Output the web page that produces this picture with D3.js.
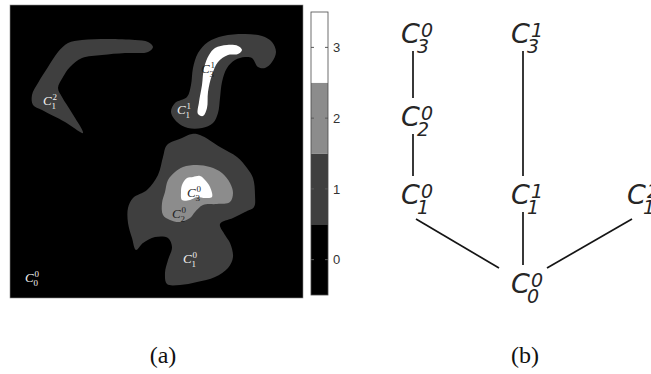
<!DOCTYPE html>
<html><head><meta charset="utf-8">
<script src="https://cdn.jsdelivr.net/npm/d3@7"></script>
<style>
html,body{margin:0;padding:0;background:#fff;}
svg{display:block;}
</style></head>
<body>
<svg id="chart" width="651" height="374"></svg>
<script>
// ---------- DATA ----------
// level-set image (a): contour outlines in image pixel units (0..293)
const levels = [0, 1, 2, 3];
const levelColors = ["#000000", "#3f3f3f", "#8c8c8c", "#ffffff"];
const colorbarTicks = [0, 1, 2, 3];

const regionHook = [[58,38],[72,35],[98,34],[125,35],[138,37],[143,42],[138,47],[115,48],[92,50],[72,53],[60,62],[53,72],[48,83],[52,92],[62,108],[73,128],[55,117],[32,105],[23,100],[22,90],[28,78],[38,62],[48,47]];
const regionS = [[188,48],[198,37],[213,31],[235,29],[252,31],[262,37],[266,47],[262,57],[255,63],[248,62],[242,53],[235,52],[225,55],[217,63],[212,77],[210,93],[208,108],[203,118],[192,123],[178,123],[167,117],[161,107],[165,98],[177,92],[181,80],[183,63]];
const regionSWhite = [[205,43],[217,40],[228,41],[232,45],[228,49],[218,50],[208,57],[202,70],[198,87],[197,103],[193,111],[188,109],[189,97],[192,80],[194,63],[199,50]];
const regionBlob = [[182,129],[190,130],[210,142],[227,152],[237,163],[243,173],[245,190],[244,202],[235,207],[223,213],[210,219],[215,230],[220,238],[223,252],[218,263],[205,272],[187,277],[170,280],[157,279],[155,268],[158,255],[162,242],[158,233],[145,232],[133,238],[126,245],[122,233],[118,218],[118,203],[123,193],[137,185],[148,170],[153,152],[157,140],[172,133]];
const regionBlobGray = [[173,162],[187,160],[200,162],[212,168],[220,178],[223,188],[220,197],[207,199],[193,200],[185,207],[180,213],[170,217],[160,215],[153,210],[152,198],[155,187],[158,175],[165,167]];
const regionBlobWhite = [[172,180],[177,173],[183,172],[190,171],[195,175],[200,182],[202,192],[195,193],[187,192],[180,195],[172,195],[171,187]];

const regions = [
  {level: 1, pts: regionHook},
  {level: 1, pts: regionS},
  {level: 3, pts: regionSWhite},
  {level: 1, pts: regionBlob},
  {level: 2, pts: regionBlobGray},
  {level: 3, pts: regionBlobWhite}
];

// labels placed on the image (image pixel units): [x, y, sup, sub]
const imageLabels = [
  [33,100,2,1],
  [191,68,1,3],
  [167,109,1,1],
  [177,192,0,3],
  [162,213,0,2],
  [173,258,0,1],
  [15,277,0,0]
];

// tree (b): nodes C^sup_sub, column index, parent
const treeNodes  = ["C00","C10","C11","C12","C20","C30","C31"];
const treeSup    = [0, 0, 1, 2, 0, 0, 1];
const treeSub    = [0, 1, 1, 1, 2, 3, 3];
const treeCol    = [1, 0, 1, 2, 0, 0, 1];
const treeParent = [null,"C00","C00","C00","C10","C20","C11"];

const captions = ["(a)", "(b)"];

// ---------- DRAW ----------
const svg = d3.select("#chart");

// Panel (a)
const imgDomain = [0, 293];
const x = d3.scaleLinear().domain(imgDomain).range([10, 303]);
const y = d3.scaleLinear().domain(imgDomain).range([5, 298]);
const color = d3.scaleOrdinal().domain(levels).range(levelColors);

const pa = svg.append("g");
pa.append("rect")
  .attr("x", x(0)).attr("y", y(0))
  .attr("width", x(293) - x(0)).attr("height", y(293) - y(0))
  .attr("fill", color(0)).attr("stroke", "#8a8a8a").attr("stroke-width", 0.6);

const line = d3.line().x(d => x(d[0])).y(d => y(d[1])).curve(d3.curveCatmullRomClosed.alpha(0.5));
pa.selectAll("path.region").data(regions).join("path")
  .attr("class", "region")
  .attr("d", d => line(d.pts))
  .attr("fill", d => color(d.level));

const lbl = pa.selectAll("text.lbl").data(imageLabels).join("text").attr("class", "lbl")
  .attr("fill", d => d[3] >= 2 ? "#1e1e1e" : "#f2f2f2")
  .style("font-family", "'Liberation Serif', 'DejaVu Serif', serif");
lbl.append("tspan").attr("x", d => x(d[0])).attr("y", d => y(d[1]))
  .style("font-style", "italic").style("font-size", "13px").text("C");
lbl.append("tspan").attr("x", d => x(d[0]) + 9.5).attr("y", d => y(d[1]) - 5)
  .style("font-size", "9px").text(d => d[2]);
lbl.append("tspan").attr("x", d => x(d[0]) + 8.5).attr("y", d => y(d[1]) + 3.5)
  .style("font-size", "9px").text(d => d[3]);

// Colorbar
const cbX0 = 311, cbW = 17;
const cbY = d3.scaleLinear().domain([-0.5, 3.5]).range([295, 12]);
const cb = svg.append("g");
cb.selectAll("rect.seg").data(levels).join("rect").attr("class", "seg")
  .attr("x", cbX0).attr("width", cbW)
  .attr("y", d => cbY(d + 0.5)).attr("height", d => cbY(d - 0.5) - cbY(d + 0.5))
  .attr("fill", d => color(d));
cb.selectAll("line.tl").data(colorbarTicks).join("line").attr("class", "tl")
  .attr("x1", cbX0).attr("x2", cbX0 + 3).attr("y1", d => cbY(d)).attr("y2", d => cbY(d))
  .attr("stroke", "#5a5a5a").attr("stroke-width", 1);
cb.selectAll("line.tr").data(colorbarTicks).join("line").attr("class", "tr")
  .attr("x1", cbX0 + cbW - 3).attr("x2", cbX0 + cbW).attr("y1", d => cbY(d)).attr("y2", d => cbY(d))
  .attr("stroke", "#5a5a5a").attr("stroke-width", 1);
cb.append("rect").attr("x", cbX0).attr("y", cbY(3.5)).attr("width", cbW)
  .attr("height", cbY(-0.5) - cbY(3.5)).attr("fill", "none").attr("stroke", "#4a4a4a").attr("stroke-width", 0.8);
const axis = d3.axisRight(cbY).tickValues(colorbarTicks).tickSize(0).tickPadding(5).tickFormat(d3.format("d"));
const ag = cb.append("g").attr("transform", `translate(${cbX0 + cbW},0)`).call(axis);
ag.select(".domain").remove();
ag.selectAll("text").attr("fill", "#333").style("font-family", "'Liberation Sans', Arial, sans-serif").style("font-size", "13px");

// Panel (b) tree
const colX = d3.scaleOrdinal().domain([0, 1, 2]).range([413, 523, 639]);
const levY = d3.scaleOrdinal().domain([0, 1, 2, 3]).range([283, 194, 116, 33]);
const nodes = treeNodes.map((id, i) => ({id, sup: treeSup[i], sub: treeSub[i], col: treeCol[i], parent: treeParent[i]}));
const byId = new Map(nodes.map(n => [n.id, n]));
const links = nodes.filter(n => n.parent).map(n => ({child: n, parent: byId.get(n.parent)}));

const pb = svg.append("g");
pb.selectAll("line.edge").data(links).join("line").attr("class", "edge")
  .each(function(d) {
    const cx = colX(d.child.col), cy = levY(d.child.sub);
    const px = colX(d.parent.col), py = levY(d.parent.sub);
    const s = Math.sign(cx - px);
    d3.select(this)
      .attr("x1", cx + (s ? -2 - 5 * s : 0)).attr("y1", cy + (s ? 25 : 18))
      .attr("x2", px + s * 24).attr("y2", py - (s ? 15 : 18));
  })
  .attr("stroke", "#151515").attr("stroke-width", 1.7);

const tn = pb.selectAll("text.node").data(nodes).join("text").attr("class", "node")
  .attr("fill", "#262626")
  .style("font-family", "'DejaVu Sans', sans-serif").style("font-style", "oblique");
tn.append("tspan").attr("x", d => colX(d.col) - 12).attr("y", d => levY(d.sub) + 10)
  .style("font-size", "27px").text("C");
tn.append("tspan").attr("x", d => colX(d.col) + 8).attr("y", d => levY(d.sub) + 4)
  .style("font-size", "19px").text(d => d.sup);
tn.append("tspan").attr("x", d => colX(d.col) + 4).attr("y", d => levY(d.sub) + 20)
  .style("font-size", "19px").text(d => d.sub);

// Captions
const capX = d3.scaleOrdinal().domain(captions).range([163, 525]);
svg.selectAll("text.cap").data(captions).join("text").attr("class", "cap")
  .attr("x", d => capX(d)).attr("y", 363).attr("text-anchor", "middle")
  .attr("fill", "#111")
  .style("font-family", "'Liberation Serif', 'Times New Roman', serif").style("font-size", "24px")
  .text(d => d);
</script>
</body></html>
